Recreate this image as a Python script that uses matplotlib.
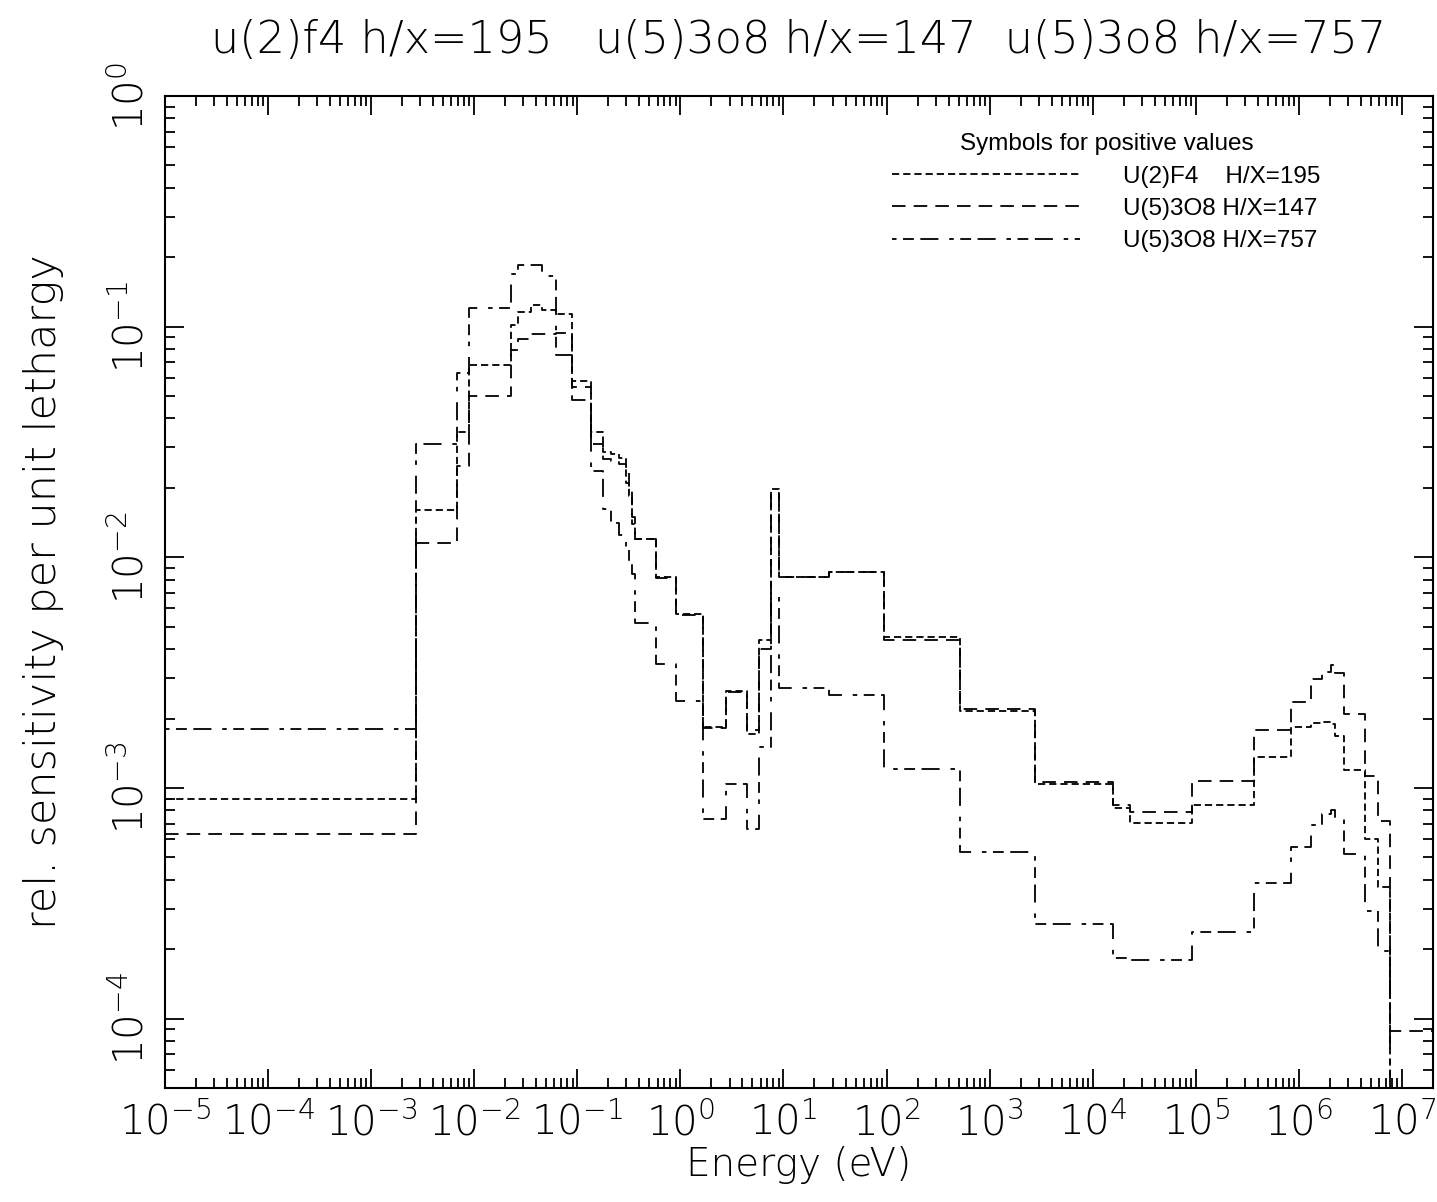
#!/usr/bin/env python3
import numpy as np
import matplotlib
matplotlib.use("Agg")
import matplotlib.pyplot as plt
from matplotlib.ticker import LogLocator, NullFormatter

# thin strokes everywhere (legend font has no light face and stays regular)
plt.rcParams['font.weight'] = 'light'
plt.rcParams['axes.titleweight'] = 'light'
plt.rcParams['axes.labelweight'] = 'light'

# ============================================================================
# group boundaries (eV)
edges = [1e-5, 2.75e-3, 6.85e-3, 9.0e-3, 2.29e-2, 2.67e-2, 3.57e-2, 4.56e-2,
         6.24e-2, 8.9e-2, 0.136, 0.178, 0.212, 0.254, 0.297, 0.318, 0.340,
         0.363, 0.579, 0.904, 1.65, 2.76, 4.41, 5.75, 7.52, 8.99, 27.4, 95.5,
         519.0, 2760.0, 1.57e4, 2.3e4, 9.15e4, 3.64e5, 8.3e5, 1.3e6, 1.69e6,
         2.07e6, 2.26e6, 2.77e6, 4.42e6, 5.92e6, 7.73e6, 2.0e7]

# U(2)F4 H/X=195
sens_uf4_195 = [9.0e-4, 1.6e-2, 3.5e-2, 6.8e-2, 0.102, 0.116, 0.124, 0.118,
                0.113, 0.058, 0.035, 0.0285, 0.028, 0.027, 0.021, 0.0185,
                0.014, 0.012, 8.2e-3, 5.7e-3, 1.84e-3, 2.63e-3, 1.71e-3,
                4.4e-3, 1.97e-2, 8.2e-3, 8.6e-3, 4.5e-3, 2.15e-3, 1.04e-3,
                8.2e-4, 7.05e-4, 8.4e-4, 1.36e-3, 1.84e-3, 1.91e-3, 1.93e-3,
                1.9e-3, 1.68e-3, 1.2e-3, 6.0e-4, 3.72e-4, 1e-5]

# U(5)3O8 H/X=147
sens_u3o8_147 = [6.3e-4, 1.15e-2, 2.5e-2, 5.0e-2, 0.079, 0.088, 0.093, 0.093,
                 0.094, 0.055, 0.031, 0.0267, 0.0262, 0.0255, 0.024, 0.0195,
                 0.015, 0.012, 8.1e-3, 5.6e-3, 1.82e-3, 2.6e-3, 1.78e-3,
                 4.0e-3, 1.9e-2, 8.2e-3, 8.6e-3, 4.4e-3, 2.2e-3, 1.06e-3,
                 8.4e-4, 7.9e-4, 1.07e-3, 1.78e-3, 2.36e-3, 2.97e-3, 3.18e-3,
                 3.4e-3, 3.15e-3, 2.09e-3, 1.13e-3, 7.2e-4, 8.8e-5]

# U(5)3O8 H/X=757
sens_u3o8_757 = [1.8e-3, 3.1e-2, 6.3e-2, 0.121, 0.17, 0.185, 0.185, 0.166,
                 0.0756, 0.048, 0.0236, 0.0162, 0.0141, 0.0125, 0.011, 0.0095,
                 0.0085, 5.2e-3, 3.44e-3, 2.38e-3, 7.3e-4, 1.04e-3, 6.65e-4,
                 1.5e-3, 6.8e-3, 2.7e-3, 2.53e-3, 1.21e-3, 5.3e-4, 2.58e-4,
                 1.84e-4, 1.8e-4, 2.38e-4, 3.88e-4, 5.55e-4, 6.9e-4, 7.7e-4,
                 8.0e-4, 7.3e-4, 5.18e-4, 2.94e-4, 1.97e-4, 1e-5]

labels = ["U(2)F4    H/X=195", "U(5)3O8 H/X=147", "U(5)3O8 H/X=757"]
title_str = "u(2)f4 h/x=195   u(5)3o8 h/x=147  u(5)3o8 h/x=757"

# line styles (dash patterns in units of linewidth)
styles = [(0, (4.0, 2.2)),
          (0, (7.5, 4.5)),
          (0, (2.5, 3.6, 6.0, 3.6, 10.0, 6.0))]


# ============================================================================
def plot_sens():
    fig = plt.figure(figsize=(14.37, 12.02), dpi=100)
    ax = fig.add_axes([0.1148, 0.0948, 0.8824, 0.8253])

    x = np.array(edges)
    for vals, ls, lab in zip([sens_uf4_195, sens_u3o8_147, sens_u3o8_757],
                             styles, labels):
        y = np.append(vals, vals[-1])
        ax.step(x, y, where='post', color='black', lw=1.3,
                linestyle=ls, label=lab)

    ax.set_xscale('log')
    ax.set_yscale('log')
    ax.set_xlim(1e-5, 2e7)
    ax.set_ylim(5e-5, 1.0)

    # ticks: every decade, minors 2..9
    ax.xaxis.set_major_locator(LogLocator(base=10, numticks=40))
    ax.xaxis.set_minor_locator(LogLocator(base=10, subs=np.arange(2, 10), numticks=40))
    ax.yaxis.set_major_locator(LogLocator(base=10, numticks=40))
    ax.yaxis.set_minor_locator(LogLocator(base=10, subs=np.arange(2, 10), numticks=40))
    ax.xaxis.set_minor_formatter(NullFormatter())
    ax.yaxis.set_minor_formatter(NullFormatter())

    ax.tick_params(which='both', direction='in', top=True, right=True,
                   width=1.3, labelsize=29)
    ax.tick_params(which='major', length=14)
    ax.tick_params(which='minor', length=7)
    ax.tick_params(axis='x', pad=10)
    ax.tick_params(axis='y', pad=10, labelrotation=90)
    plt.setp(ax.get_yticklabels(), va='center')
    for s in ax.spines.values():
        s.set_linewidth(1.5)

    ax.set_xlabel('Energy (eV)', fontsize=28, fontweight='light', labelpad=2)
    ax.set_ylabel('rel. sensitivity per unit lethargy', fontsize=31,
                  fontweight='light', labelpad=33)
    ax.set_title(title_str, fontsize=32, fontweight='light', pad=31)

    leg = ax.legend(loc='upper left', bbox_to_anchor=(0.621, 0.889),
                    bbox_transform=fig.transFigure, frameon=False,
                    title='Symbols for positive values',
                    prop={'family': 'Liberation Sans', 'size': 17.5,
                          'weight': 'normal'},
                    handlelength=7.7, handletextpad=1.8, labelspacing=0.42,
                    borderaxespad=0, borderpad=0)
    leg.get_title().set_family('Liberation Sans')
    leg.get_title().set_fontsize(17.5)
    leg.get_title().set_fontweight('normal')

    fig.savefig('out.png', dpi=100)


# ============================================================================
if __name__ == "__main__":
    plot_sens()
